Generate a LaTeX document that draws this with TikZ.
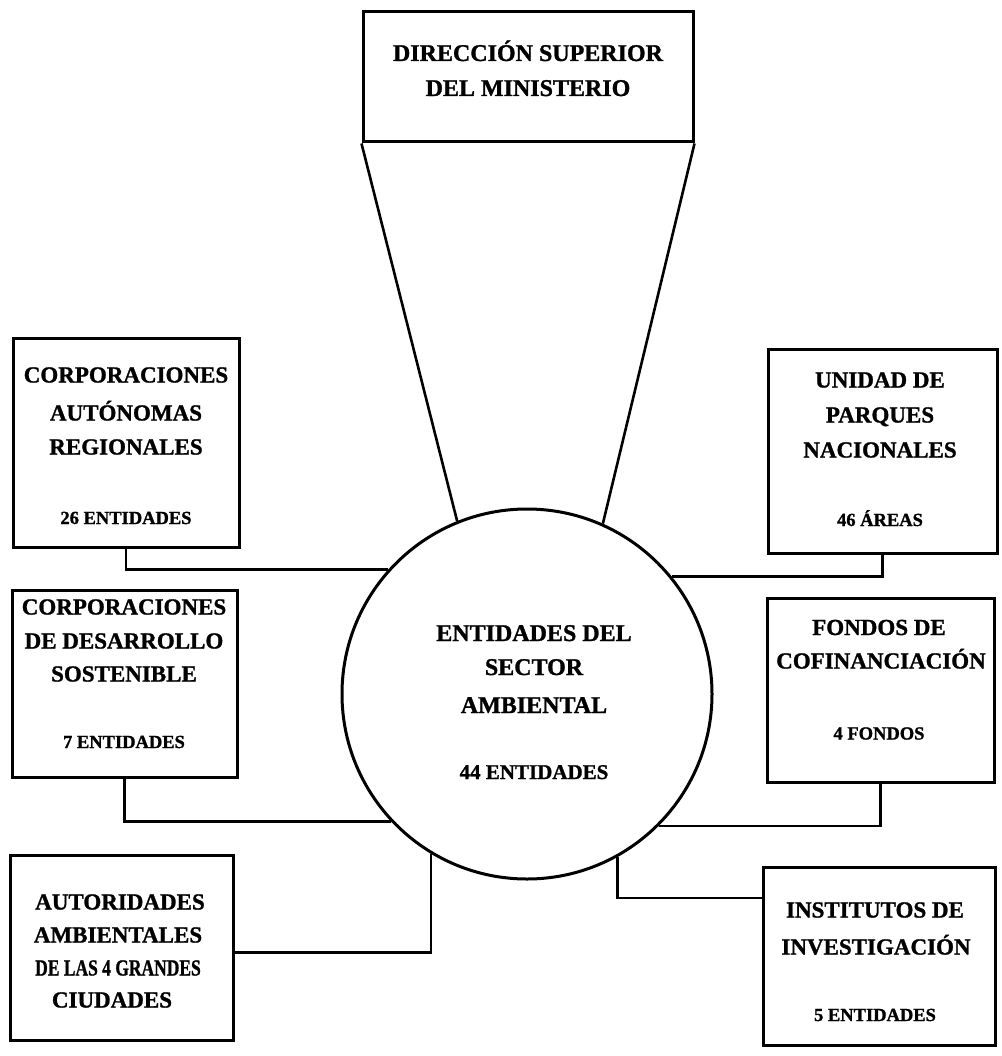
\documentclass[tikz,border=0pt]{standalone}
\usepackage{fontspec}
\setmainfont{Liberation Serif}
\newfontfamily\heavy{Liberation Serif Bold}[FakeBold=1.2]
\begin{document}
\begin{tikzpicture}[x=1pt,y=-1pt,
  boxst/.style={draw, line width=3pt, rectangle, inner sep=0pt},
  hd/.style={anchor=base, inner sep=0pt, font=\heavy\fontsize{23}{27}\selectfont},
  ctn/.style={anchor=base, inner sep=0pt, font=\heavy\fontsize{18.5}{22}\selectfont},
  big/.style={anchor=base, inner sep=0pt, font=\heavy\fontsize{24}{28}\selectfont},
  midf/.style={anchor=base, inner sep=0pt, font=\heavy\fontsize{21}{25}\selectfont},
  conn/.style={line width=2.6pt}]
\useasboundingbox (0,0) rectangle (1001,1056);

% boxes
\node[boxst, minimum width=330pt, minimum height=130pt] (top) at (528,77) {};
\node[boxst, minimum width=226pt, minimum height=209pt] (b1) at (126,442.5) {};
\node[boxst, minimum width=225pt, minimum height=187pt] (b2) at (124.5,683.5) {};
\node[boxst, minimum width=223pt, minimum height=185pt] (b3) at (121.5,947.5) {};
\node[boxst, minimum width=229pt, minimum height=204pt] (b4) at (882.5,451) {};
\node[boxst, minimum width=227pt, minimum height=184pt] (b5) at (880.5,690) {};
\node[boxst, minimum width=232pt, minimum height=178pt] (b6) at (879,956) {};
\node[draw, circle, line width=3pt, minimum size=370pt, inner sep=0pt] (ent) at (527,694) {};

% connectors
\draw[conn] (top.south west) -- (ent.112.8);
\draw[conn] (top.south east) -- (ent.66.3);
\draw[conn] (b1.south) |- (ent.138.3);
\draw[conn] (b2.south) |- (ent.223.5);
\draw[conn] ([yshift=-5pt]b3.east) -| (ent.239.5);
\draw[conn] (b4.south) |- (ent.39.3);
\draw[conn] (b5.south) |- (ent.315);
\draw[conn] (ent.299.1) |- ([yshift=58pt]b6.west);

% texts
\node[big] (t0a) at (528,61) {DIRECCIÓN SUPERIOR};
\node[big] (t0b) at (528,96) {DEL MINISTERIO};

\node[big] (tca) at (534,641) {ENTIDADES DEL};
\node[big] (tcb) at (534,675) {SECTOR};
\node[big] (tcc) at (534,713) {AMBIENTAL};
\node[midf] (tcd) at (534,779) {44 ENTIDADES};

\node[hd] (t1a) at (126,382.5) {CORPORACIONES};
\node[hd] (t1b) at (126,420.5) {AUTÓNOMAS};
\node[hd] (t1c) at (126,454.5) {REGIONALES};
\node[ctn] (t1d) at (126,524) {26 ENTIDADES};

\node[hd] (t2a) at (124,614.5) {CORPORACIONES};
\node[hd] (t2b) at (124,648.5) {DE DESARROLLO};
\node[hd] (t2c) at (124,681.5) {SOSTENIBLE};
\node[ctn] (t2d) at (124,748) {7 ENTIDADES};

\node[hd] (t3a) at (120,909.5) {AUTORIDADES};
\node[hd] (t3b) at (118,942.5) {AMBIENTALES};
\node[hd] (t3c) at (118,975.5) {\scalebox{0.76}[1]{DE LAS 4 GRANDES}};
\node[hd] (t3d) at (112,1007.5) {CIUDADES};

\node[hd] (t4a) at (880,387.5) {UNIDAD DE};
\node[hd] (t4b) at (880,422.5) {PARQUES};
\node[hd] (t4c) at (880,457.5) {NACIONALES};
\node[ctn] (t4d) at (880,526) {46 ÁREAS};

\node[hd] (t5a) at (879,635) {FONDOS DE};
\node[hd] (t5b) at (881,668.5) {COFINANCIACIÓN};
\node[ctn] (t5c) at (879,739.5) {4 FONDOS};

\node[hd] (t6a) at (875,917.5) {INSTITUTOS DE};
\node[hd] (t6b) at (876,954.5) {INVESTIGACIÓN};
\node[ctn] (t6c) at (875,1021) {5 ENTIDADES};
\end{tikzpicture}
\end{document}
